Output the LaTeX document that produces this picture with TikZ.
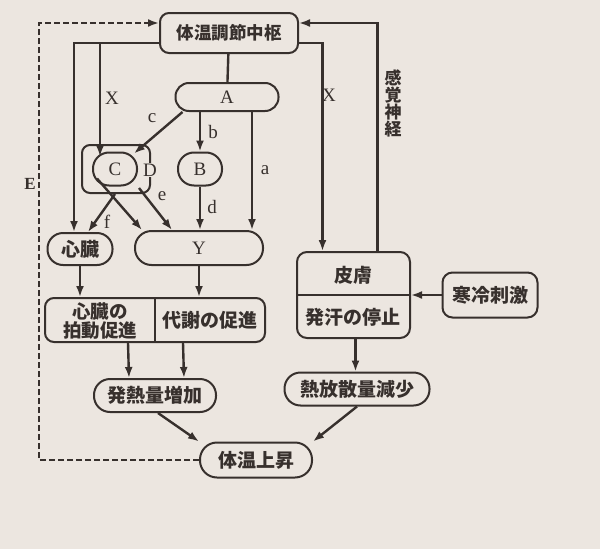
\documentclass[tikz,border=0pt]{standalone}
\usepackage{fontspec}
\setmainfont{Liberation Serif}
\newfontfamily\jpfont{Noto Sans CJK JP}
\usepackage{tikz}
\usetikzlibrary{arrows.meta,positioning,calc}
\definecolor{paper}{HTML}{ECE6E0}
\definecolor{ink}{HTML}{37302D}
\tikzstyle{pill} = [rectangle, draw=ink, line width=2pt, fill=paper, text=ink,
    inner sep=0pt, font=\fontsize{19}{19}\selectfont\jpfont\bfseries]
\tikzstyle{jptext} = [text=ink, inner sep=0pt, font=\fontsize{19}{19}\selectfont\jpfont\bfseries]
\tikzstyle{latin} = [font=\fontsize{19}{19}\selectfont]
\tikzstyle{letter} = [text=ink, inner sep=1pt, font=\fontsize{19}{19}\selectfont]
\tikzstyle{wire} = [line width=2.4pt, draw=ink]
\tikzstyle{arrow} = [-{Latex[length=11pt,width=8pt]}, line width=2.4pt, draw=ink]

\begin{document}
\begin{tikzpicture}[x=1pt, y=-1pt]

\fill[paper] (0,0) rectangle (600,549);

% top centre and the A branch
\node[pill, minimum width=138pt, minimum height=40pt, rounded corners=9pt,
    font=\fontsize{17.5}{17.5}\selectfont\jpfont\bfseries] (ctr) at (229,33) {体温調節中枢};
\node[pill, latin, minimum width=103pt, minimum height=28pt, rounded corners=13.5pt] (A) at (227,97) {A};
\node[pill, fill=none, minimum width=68pt, minimum height=48pt, rounded corners=8pt] (Dbox) at (116,169) {};
\node[pill, latin, minimum width=44pt, minimum height=33pt, rounded corners=16pt] (C) at (115,169) {C};
\node[pill, latin, minimum width=44pt, minimum height=33pt, rounded corners=16pt] (B) at (200,169) {B};
\node[letter, fill=paper, inner sep=0.5pt] (Dlab) at (150,170) {D};
\node[pill, minimum width=65pt, minimum height=32pt, rounded corners=15.5pt] (heart) at (80,249) {心臓};
\node[pill, latin, minimum width=128pt, minimum height=34pt, rounded corners=16.5pt] (Y) at (199,248) {Y};

% effect boxes
\node[pill, minimum width=220pt, minimum height=44pt, rounded corners=9pt] (eff) at (155,320) {};
\node[jptext, align=center, font=\fontsize{18.5}{19}\selectfont\jpfont\bfseries] (beat) at (100,321) {心臓の\\拍動促進};
\node[jptext] (meta) at (210,320) {代謝の促進};
\node[pill, minimum width=113pt, minimum height=86pt, rounded corners=10pt] (skin) at (353.5,295) {};
\node[jptext] (skintop) at (353,275) {皮膚};
\node[jptext] (sweat) at (353,317) {発汗の停止};
\node[pill, minimum width=95pt, minimum height=45pt, rounded corners=10pt] (cold) at (490,295) {寒冷刺激};

\node[pill, below=35pt of eff, minimum width=122pt, minimum height=33pt, rounded corners=16pt] (heat) {発熱量増加};
\node[pill, minimum width=145pt, minimum height=33pt, rounded corners=16pt] (loss) at (357,389) {熱放散量減少};
\node[pill, minimum width=112pt, minimum height=35pt, rounded corners=17pt] (rise) at (256,460) {体温上昇};

% labels
\node[letter] (lxl) at (112,98) {X};
\node[letter] (lxr) at (329,95) {X};
\node[letter] (la) at (265,170) {a};
\node[letter] (lb) at (213,132) {b};
\node[letter] (lc) at (152,118) {c};
\node[letter] (ld) at (212,207) {d};
\node[letter] (le) at (162,196) {e};
\node[letter] (lf) at (107,222) {f};
\node[letter, font=\fontsize{17}{17}\selectfont\bfseries] (lE) at (30,184) {E};
\node[jptext, align=center, font=\fontsize{17}{17}\selectfont\jpfont\bfseries] (sense) at (393,103) {感\\覚\\神\\経};

% connectors
\draw[wire] (ctr) -- (A);
\draw[arrow] ([yshift=-10pt]ctr.west) -| ([xshift=-6pt]heart.north);
\draw[arrow] ([yshift=-10pt]ctr.west) -| ([xshift=-15pt,yshift=-5pt]C.north);
\draw[arrow] ([yshift=-10pt]ctr.east) -| ([xshift=-31pt]skin.north);
\draw[arrow] ([xshift=24pt]skin.north) |- ([yshift=10pt]ctr.east);
\draw[arrow, dash pattern=on 6pt off 3pt] (rise.west) -- ++(-160,0) |- ([yshift=10pt]ctr.west);

\draw[arrow] (A.south -| B.north) -- (B);
\draw[arrow] ([xshift=25pt]A.south) -- ([xshift=25pt]A.south |- Y.north);
\draw[arrow] ([xshift=8pt]A.south west) -- ([xshift=-4pt,yshift=-2pt]C.north east);
\draw[arrow] (B) -- (B |- Y.north);
\draw[arrow] ([xshift=-12pt,yshift=6pt]Dbox.south east) -- ([xshift=-27pt]Y.north);
\draw[arrow] ([xshift=5pt,yshift=8pt]C.south west) -- ([xshift=8pt]Y.north west);
\draw[arrow] ([xshift=-1pt]Dbox.south) -- ([xshift=8pt]heart.north);

\draw[arrow] (heart) -- (heart |- eff.north);
\draw[arrow] (Y) -- (Y |- eff.north);
\draw[wire] (eff.north) -- (eff.south);
\draw[wire] (skin.west) -- (skin.east);
\draw[arrow] ([xshift=-27pt]eff.south) -- ([xshift=-26pt]heat.north);
\draw[arrow] ([xshift=28pt]eff.south) -- ([xshift=29pt]heat.north);
\draw[arrow] (cold) -- (skin.east);
\draw[arrow] ([xshift=2pt]skin.south) -- ([xshift=2pt]skin.south |- loss.north);
\draw[arrow] ([xshift=3pt]heat.south) -- (rise.north west);
\draw[arrow] (loss.south) -- (rise.north east);

\end{tikzpicture}
\end{document}
